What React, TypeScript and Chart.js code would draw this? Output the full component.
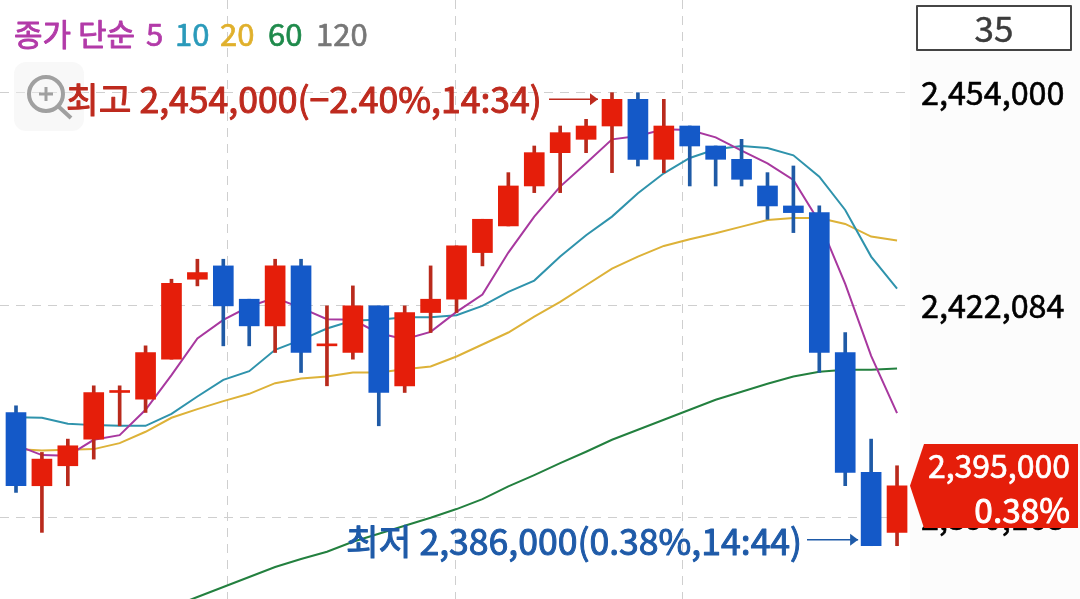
import React, { useEffect, useRef } from "react";
import { Chart, registerables } from "chart.js";

Chart.register(...registerables);

// Candles, thousands of won
const opens = [2406,2395,2398,2402,2409,2408,2414,2426,2428,2423,2419,2428,2416,2415,2422,2410,2421,2423,2430,2434,2440,2445,2447,2449,2453,2444,2449,2446,2444,2440,2437,2436,2415,2397,2388];
const closes = [2395,2399,2401,2409,2409,2415,2425.4,2427,2422,2419,2428,2415,2416,2422,2409,2421,2423,2431,2435,2440,2445,2448,2449,2453,2444,2449,2446,2444,2441,2437,2436,2415,2397,2386,2395];
const highs = [2407,2400,2402,2410,2410,2416,2426,2429,2429,2423,2429,2429,2422,2425,2422,2422,2428,2431,2435,2442,2446,2449,2450,2454,2454,2453,2449,2446,2447,2442,2443,2437,2418,2402,2398];
const lows = [2394,2388,2395,2399,2404,2406,2414,2425,2416,2416,2415,2412,2410,2414,2404,2409,2418,2421,2428,2434,2439,2439,2445,2442,2443,2442,2440,2440,2440,2435,2433,2412,2395,2386,2386];

const ma5 = [2401.1,2399.6,2399.5,2401.9,2402.6,2406.4,2411.6,2417.1,2419.9,2421.9,2423.2,2421.7,2420,2419.9,2417.9,2417,2418.1,2421.1,2423.7,2430,2435.4,2439.9,2443.4,2447,2447.5,2448.5,2448.4,2447.3,2445.3,2443.4,2440.9,2434.6,2425.3,2414.5,2405.9];
const ma10 = [2405.3,2405.2,2404.3,2404.1,2404,2404,2405.8,2408.4,2410.9,2412.2,2415.4,2416.9,2418.6,2419.8,2419.9,2420.3,2420.3,2420.6,2422,2424.1,2425.8,2429.4,2432.6,2435.4,2438.9,2441.9,2444.2,2445.5,2446,2445.7,2444.6,2441.4,2436.4,2429.4,2424.6];
const ma20 = [2400.5,2400.3,2400.4,2400.5,2401.4,2403.1,2405.2,2406.5,2407.7,2408.8,2410.4,2411.1,2411.4,2412,2412,2412.5,2412.9,2414.4,2416.2,2418,2420.4,2422.6,2425.1,2427.6,2429.4,2431,2432,2432.9,2433.9,2434.9,2435.2,2435.2,2434.3,2432.4,2431.8];
const ma60 = [null,null,null,null,null,null,2376.8,2378.3,2379.8,2381.3,2382.8,2384,2385.1,2386.6,2387.8,2389,2390.2,2391.5,2393,2394.9,2396.6,2398.4,2400.1,2401.9,2403.4,2404.9,2406.4,2407.9,2409.1,2410.3,2411.4,2412.1,2412.4,2412.4,2412.6];

const priceTicks = [2454000, 2422084, 2390168];
const legendHead = "종가 단순";
const legendItems = ["5", "10", "20", "60", "120"];
const periodCount = "35";
const highLabel = "최고 2,454,000(−2.40%,14:34)";
const lowLabel = "최저 2,386,000(0.38%,14:44)";
const lastPrice = "2,395,000";
const lastRate = "0.38%";

const RED = "#E51E0A";
const BLUE = "#1459C8";
const RED_WICK = "#B92A1C";
const BLUE_WICK = "#1F5AA6";
const LINE5 = "#A8389F";
const LINE10 = "#2F93AC";
const LINE20 = "#DDB238";
const LINE60 = "#23803F";
const legendColors = ["#B23AA8", "#2A9ABA", "#E0B02C", "#1E8A4B", "#777777"];
const legendX = [146, 175, 220, 268, 316];
const FONT = '"Noto Sans CJK KR", "Noto Sans", sans-serif';
const GRID = "#cfcfcf";

const won = (a: number) => a * 1000;

function heavyText(ctx: any, text: string, x: number, y: number, color: string, weight: number) {
  ctx.fillStyle = color;
  ctx.strokeStyle = color;
  ctx.lineWidth = weight;
  ctx.lineJoin = "round";
  ctx.strokeText(text, x, y);
  ctx.fillText(text, x, y);
}

function App() {
  const ref = useRef<HTMLCanvasElement | null>(null);
  useEffect(() => {
    const xy = (arr: (number | null)[]) => arr.map((v, i) => ({ x: i, y: v === null ? null : won(v) }));
    const line = (label: string, arr: (number | null)[], color: string) => ({
      type: "line" as const,
      label,
      data: xy(arr),
      borderColor: color,
      borderWidth: 2,
      pointRadius: 0,
      tension: 0,
      order: 3,
    });
    const overlay = {
      id: "overlay",
      beforeDraw(chart: any) {
        const { ctx, chartArea } = chart;
        ctx.save();
        ctx.fillStyle = "#ffffff";
        ctx.fillRect(0, 0, 1080, 599);
        ctx.fillStyle = "#fcfcfc";
        ctx.fillRect(chartArea.right, 0, 1080 - chartArea.right, 599);
        ctx.restore();
      },
      afterDraw(chart: any) {
        const { ctx } = chart;
        const x = chart.scales.x;
        const y = chart.scales.y;
        ctx.save();
        // zoom button
        ctx.fillStyle = "rgba(240,240,240,0.45)";
        ctx.beginPath();
        ctx.roundRect(14, 62, 70, 69, 12);
        ctx.fill();
        ctx.strokeStyle = "#a0a0a0";
        ctx.lineWidth = 4;
        ctx.beginPath();
        ctx.arc(46, 94, 17, 0, Math.PI * 2);
        ctx.stroke();
        ctx.beginPath();
        ctx.moveTo(59, 107);
        ctx.lineTo(71, 118);
        ctx.stroke();
        ctx.lineWidth = 3;
        ctx.beginPath();
        ctx.moveTo(39, 94);
        ctx.lineTo(53, 94);
        ctx.moveTo(46, 87);
        ctx.lineTo(46, 101);
        ctx.stroke();

        // legend
        ctx.textBaseline = "middle";
        ctx.textAlign = "left";
        ctx.font = `400 31px ${FONT}`;
        heavyText(ctx, legendHead, 14, 34, legendColors[0], 0.9);
        legendItems.forEach((t, i) => {
          heavyText(ctx, t, legendX[i], 34, legendColors[i], 0.7);
        });

        // period box
        ctx.fillStyle = "#ffffff";
        ctx.fillRect(917, 6, 154, 44);
        ctx.strokeStyle = "#444444";
        ctx.lineWidth = 2;
        ctx.strokeRect(917, 6, 154, 44);
        ctx.font = `400 35px ${FONT}`;
        ctx.textAlign = "center";
        heavyText(ctx, periodCount, 994, 29, "#3c3c3c", 0.5);

        // high annotation
        const hiY = y.getPixelForValue(won(closes[23]));
        ctx.textAlign = "left";
        ctx.font = `400 35.6px ${FONT}`;
        heavyText(ctx, highLabel, 66, hiY, "#BE2A1E", 1);
        const hiEnd = x.getPixelForValue(23) - 14;
        ctx.strokeStyle = "#BE2A1E";
        ctx.lineWidth = 1.5;
        ctx.beginPath();
        ctx.moveTo(549, hiY);
        ctx.lineTo(hiEnd, hiY);
        ctx.stroke();
        ctx.fillStyle = "#BE2A1E";
        ctx.beginPath();
        ctx.moveTo(hiEnd, hiY);
        ctx.lineTo(hiEnd - 8, hiY - 6);
        ctx.lineTo(hiEnd - 8, hiY + 6);
        ctx.closePath();
        ctx.fill();

        // low annotation
        const loY = y.getPixelForValue(won(lows[33])) - 6;
        heavyText(ctx, lowLabel, 346, loY + 2, "#1E5AA8", 1);
        const loEnd = x.getPixelForValue(33) - 13;
        ctx.strokeStyle = "#1E5AA8";
        ctx.fillStyle = "#1E5AA8";
        ctx.lineWidth = 1.5;
        ctx.beginPath();
        ctx.moveTo(807, loY);
        ctx.lineTo(loEnd, loY);
        ctx.stroke();
        ctx.beginPath();
        ctx.moveTo(loEnd, loY);
        ctx.lineTo(loEnd - 8, loY - 6);
        ctx.lineTo(loEnd - 8, loY + 6);
        ctx.closePath();
        ctx.fill();

        // last price tag
        const lastY = y.getPixelForValue(won(closes[34]));
        ctx.fillStyle = RED;
        ctx.beginPath();
        ctx.moveTo(910, lastY);
        ctx.lineTo(924, 444);
        ctx.lineTo(1078, 444);
        ctx.lineTo(1078, 528);
        ctx.lineTo(924, 528);
        ctx.closePath();
        ctx.fill();
        ctx.textAlign = "right";
        ctx.font = `400 32px ${FONT}`;
        heavyText(ctx, lastPrice, 1070, 466, "#ffffff", 0.7);
        ctx.font = `400 33.4px ${FONT}`;
        heavyText(ctx, lastRate, 1070, 510, "#ffffff", 0.9);
        ctx.restore();
      },
    };
    const clearPadding = (s: any) => {
      s.paddingTop = 0;
      s.paddingBottom = 0;
      s.paddingLeft = 0;
      s.paddingRight = 0;
    };
    const chart = new Chart(ref.current as HTMLCanvasElement, {
      type: "bar",
      data: {
        datasets: [
          line("5", ma5, LINE5),
          line("10", ma10, LINE10),
          line("20", ma20, LINE20),
          line("60", ma60, LINE60),
          {
            label: "wick",
            data: highs.map((h, i) => ({ x: i, y: [won(lows[i]), won(h)] })),
            backgroundColor: closes.map((c, i) => (c >= opens[i] ? RED_WICK : BLUE_WICK)),
            barThickness: 3,
            grouped: false,
            order: 2,
          },
          {
            label: "body",
            data: opens.map((o, i) => ({ x: i, y: [won(o), won(closes[i])] })),
            backgroundColor: closes.map((c, i) => (c >= opens[i] ? RED : BLUE)),
            barThickness: 20,
            minBarLength: 2,
            grouped: false,
            order: 1,
          },
        ] as any,
      },
      options: {
        responsive: false,
        animation: false,
        events: [],
        layout: { padding: 0 },
        plugins: { legend: { display: false }, tooltip: { enabled: false } },
        scales: {
          x: {
            type: "linear",
            offset: false,
            bounds: "data",
            min: -0.6175,
            max: 34.5,
            afterBuildTicks(s: any) {
              const step = (s.max - s.min) / 4;
              s.ticks = [1, 2, 3].map((k) => ({ value: s.min + step * k }));
            },
            afterFit(s: any) {
              s.height = 0;
              clearPadding(s);
            },
            ticks: { display: false },
            grid: { color: GRID, lineWidth: 1, drawTicks: false, offset: false },
            border: { display: false, dash: [9, 7] },
          },
          y: {
            position: "right",
            bounds: "data",
            min: 2378000,
            max: 2467914,
            afterBuildTicks(s: any) {
              s.ticks = priceTicks.map((value) => ({ value }));
            },
            afterFit(s: any) {
              s.width = 170;
              clearPadding(s);
            },
            ticks: {
              padding: 11,
              color: "#000000",
              textStrokeColor: "#000000",
              textStrokeWidth: 0.6,
              font: { family: FONT, size: 32.3, weight: 400 },
              callback: (v: any) => Number(v).toLocaleString("en-US"),
            },
            grid: { color: GRID, lineWidth: 1, drawTicks: false },
            border: { display: false, dash: [9, 7] },
          },
        },
      } as any,
      plugins: [overlay],
    });
    return () => chart.destroy();
  }, []);
  return (
    <div style={{ position: "fixed", left: 0, top: 0, width: 1080, height: 599 }}>
      <canvas ref={ref} width={1080} height={599} style={{ display: "block" }} />
    </div>
  );
}

export default App;
